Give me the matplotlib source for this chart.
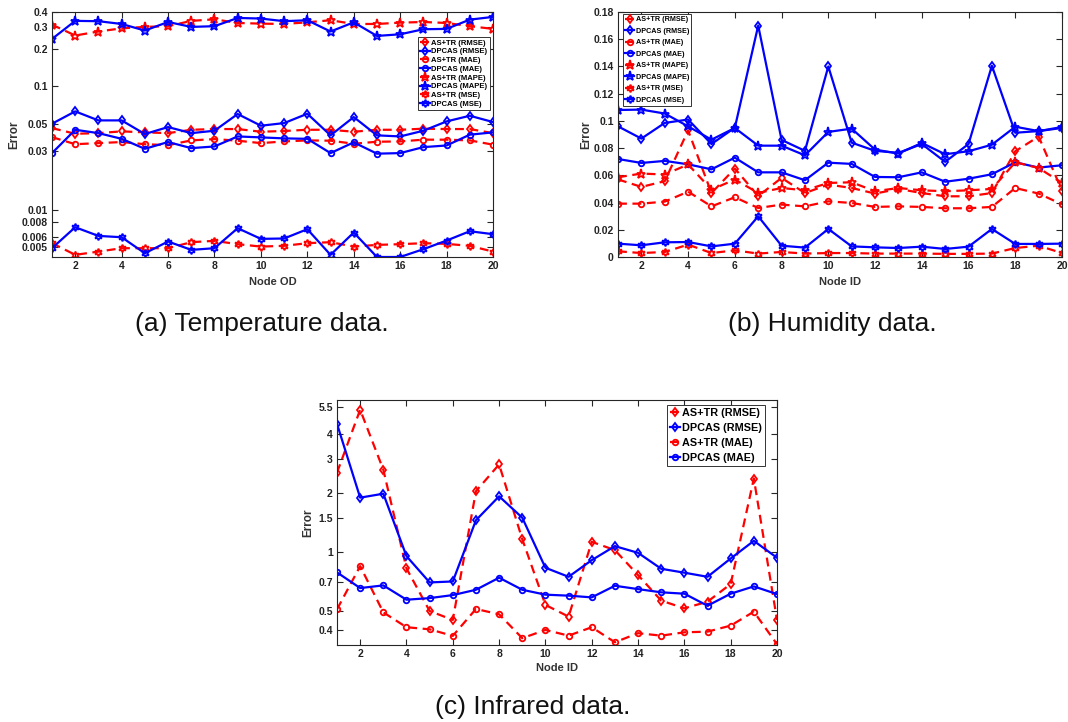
import matplotlib
matplotlib.use("Agg")
import matplotlib.pyplot as plt
from matplotlib.ticker import FixedLocator, FixedFormatter, NullLocator

nodes = list(range(1, 21))
xticks = [2, 4, 6, 8, 10, 12, 14, 16, 18, 20]

# ---- Temperature data ----
a_astr_rmse = [0.0459, 0.0413, 0.0418, 0.0432, 0.0424, 0.0418, 0.0445, 0.0451, 0.0451, 0.0429,
               0.0435, 0.0445, 0.0445, 0.0429, 0.0445, 0.0445, 0.0454, 0.0451, 0.0451, 0.0418]
a_dpcas_rmse = [0.0498, 0.0627, 0.0530, 0.0530, 0.0411, 0.0468, 0.0418, 0.0437, 0.0597, 0.0480,
                0.0504, 0.0600, 0.0401, 0.0564, 0.0401, 0.0393, 0.0437, 0.0520, 0.0578, 0.0514]
a_astr_mae = [0.0388, 0.0340, 0.0347, 0.0354, 0.0340, 0.0334, 0.0365, 0.0374, 0.0363, 0.0347,
              0.0358, 0.0365, 0.0363, 0.0343, 0.0356, 0.0358, 0.0370, 0.0370, 0.0365, 0.0337]
a_dpcas_mae = [0.0288, 0.0445, 0.0418, 0.0376, 0.0312, 0.0354, 0.0316, 0.0326, 0.0393, 0.0386,
               0.0379, 0.0376, 0.0288, 0.0352, 0.0285, 0.0288, 0.0322, 0.0332, 0.0406, 0.0424]
a_astr_mape = [0.316, 0.258, 0.278, 0.295, 0.303, 0.307, 0.339, 0.349, 0.326, 0.322,
               0.320, 0.330, 0.343, 0.320, 0.320, 0.328, 0.332, 0.326, 0.307, 0.292]
a_dpcas_mape = [0.242, 0.339, 0.337, 0.320, 0.283, 0.332, 0.303, 0.307, 0.358, 0.354,
                0.337, 0.343, 0.278, 0.330, 0.256, 0.264, 0.290, 0.292, 0.347, 0.365]
a_astr_mse = [0.00537, 0.00432, 0.00459, 0.00489, 0.00489, 0.00489, 0.00547, 0.00561, 0.00527, 0.00504,
              0.00511, 0.00537, 0.00547, 0.00504, 0.00520, 0.00527, 0.00537, 0.00530, 0.00511, 0.00459]
a_dpcas_mse = [0.00489, 0.00723, 0.00615, 0.00600, 0.00445, 0.00554, 0.00474, 0.00489, 0.00710, 0.00582,
               0.00586, 0.00697, 0.00432, 0.00655, 0.00415, 0.00415, 0.00480, 0.00564, 0.00671, 0.00635]
a_yticks = [0.005, 0.006, 0.008, 0.01, 0.03, 0.05, 0.1, 0.2, 0.3, 0.4]
a_yticklabels = ["0.005", "0.006", "0.008", "0.01", "0.03", "0.05", "0.1", "0.2", "0.3", "0.4"]

# ---- Humidity data ----
b_astr_rmse = [0.0570, 0.0515, 0.0557, 0.0930, 0.0470, 0.0650, 0.0448, 0.0581, 0.0470, 0.0532,
               0.0507, 0.0466, 0.0500, 0.0470, 0.0446, 0.0446, 0.0470, 0.0777, 0.0885, 0.0488]
b_dpcas_rmse = [0.0960, 0.0870, 0.0985, 0.1010, 0.0830, 0.0950, 0.1700, 0.0860, 0.0780, 0.1400,
                0.0840, 0.0780, 0.0765, 0.0830, 0.0699, 0.0830, 0.1405, 0.0913, 0.0925, 0.0948]
b_astr_mae = [0.0392, 0.0392, 0.0407, 0.0480, 0.0372, 0.0439, 0.0360, 0.0385, 0.0372, 0.0409,
              0.0397, 0.0368, 0.0372, 0.0368, 0.0358, 0.0358, 0.0368, 0.0507, 0.0466, 0.0387]
b_dpcas_mae = [0.0720, 0.0691, 0.0706, 0.0681, 0.0644, 0.0730, 0.0622, 0.0622, 0.0564, 0.0693,
               0.0684, 0.0588, 0.0586, 0.0622, 0.0553, 0.0575, 0.0608, 0.0696, 0.0657, 0.0674]
b_astr_mape = [0.0586, 0.0613, 0.0606, 0.0680, 0.0495, 0.0569, 0.0471, 0.0507, 0.0490, 0.0544,
               0.0549, 0.0483, 0.0507, 0.0490, 0.0483, 0.0490, 0.0500, 0.0696, 0.0654, 0.0544]
b_dpcas_mape = [0.1080, 0.1083, 0.1054, 0.0960, 0.0862, 0.0948, 0.0818, 0.0818, 0.0747, 0.0919,
                0.0943, 0.0789, 0.0760, 0.0838, 0.0755, 0.0777, 0.0825, 0.0957, 0.0925, 0.0955]
b_astr_mse = [0.0042, 0.0029, 0.0037, 0.0091, 0.0029, 0.0049, 0.0025, 0.0037, 0.0025, 0.0029,
              0.0029, 0.0025, 0.0025, 0.0025, 0.0023, 0.0023, 0.0025, 0.0066, 0.0083, 0.0029]
b_dpcas_mse = [0.0098, 0.0086, 0.0108, 0.0110, 0.0078, 0.0098, 0.0299, 0.0083, 0.0069, 0.0206,
               0.0078, 0.0071, 0.0066, 0.0076, 0.0059, 0.0076, 0.0206, 0.0096, 0.0096, 0.0098]
b_yticks = [0, 0.02, 0.04, 0.06, 0.08, 0.1, 0.12, 0.14, 0.16, 0.18]
b_yticklabels = ["0", "0.02", "0.04", "0.06", "0.08", "0.1", "0.12", "0.14", "0.16", "0.18"]

# ---- Infrared data ----
c_astr_rmse = [2.55, 5.35, 2.64, 0.826, 0.500, 0.450, 2.05, 2.81, 1.165, 0.537,
               0.468, 1.129, 1.024, 0.763, 0.565, 0.516, 0.558, 0.687, 2.38, 0.450]
c_dpcas_rmse = [4.53, 1.90, 1.99, 0.954, 0.700, 0.708, 1.456, 1.93, 1.50, 0.832,
                0.748, 0.910, 1.073, 0.992, 0.822, 0.785, 0.748, 0.928, 1.142, 0.936]
c_astr_mae = [0.510, 0.848, 0.492, 0.413, 0.403, 0.373, 0.512, 0.481, 0.363, 0.400,
              0.374, 0.413, 0.346, 0.385, 0.374, 0.389, 0.392, 0.421, 0.496, 0.338]
c_dpcas_mae = [0.788, 0.655, 0.676, 0.571, 0.582, 0.603, 0.642, 0.740, 0.642, 0.606,
               0.599, 0.587, 0.673, 0.647, 0.623, 0.613, 0.532, 0.613, 0.668, 0.610]
c_yticks = [0.4, 0.5, 0.7, 1, 1.5, 2, 3, 4, 5.5]
c_yticklabels = ["0.4", "0.5", "0.7", "1", "1.5", "2", "3", "4", "5.5"]

RED = "#ff0000"
BLUE = "#0000ff"
AXC = "#262626"
HEXAGRAM = (6, 1, 0)
LABEL_FONT = ["Liberation Sans", "DejaVu Sans"]

plt.rcParams["font.family"] = LABEL_FONT
plt.rcParams["font.weight"] = "bold"

fig = plt.figure(figsize=(10.68, 7.22), dpi=100)
W, H = 1068.0, 722.0


def make_axes(l, r, t, b):
    return fig.add_axes([l / W, 1 - b / H, (r - l) / W, (b - t) / H])


def style(ax, ticksize):
    for s in ax.spines.values():
        s.set_color(AXC)
        s.set_linewidth(0.8)
    ax.tick_params(which="both", direction="in", top=True, right=True,
                   length=4, width=0.8, color=AXC, labelsize=ticksize,
                   labelcolor="#222222", pad=3)
    ax.set_xlim(1, 20)
    ax.set_xticks(xticks)
    ax.set_xticklabels([str(v) for v in xticks], fontweight="bold")
    for lab in ax.get_yticklabels():
        lab.set_fontweight("bold")


def series(ax, y, color, marker, label, ms=4.5):
    dashed = color == RED
    ax.plot(nodes, y, linestyle="--" if dashed else "-", color=color, lw=1.6,
            marker=marker, markersize=ms, markerfacecolor="none",
            markeredgecolor=color, markeredgewidth=1.3, label=label,
            dashes=(4, 2.5) if dashed else (None, None))


def legend(ax, loc, anchor, size, spacing, hl=1.3):
    lg = ax.legend(loc=loc, bbox_to_anchor=anchor, prop={"weight": "bold", "size": size},
                   frameon=True, fancybox=False, edgecolor="#333333", framealpha=1,
                   handlelength=hl, handletextpad=0.2, borderpad=0.3,
                   labelspacing=spacing, borderaxespad=0)
    lg.get_frame().set_linewidth(0.7)
    return lg


# (a) Temperature
axa = make_axes(52, 493, 12, 257)
axa.set_yscale("log")
series(axa, a_astr_rmse, RED, "d", "AS+TR (RMSE)")
series(axa, a_dpcas_rmse, BLUE, "d", "DPCAS (RMSE)")
series(axa, a_astr_mae, RED, "o", "AS+TR (MAE)", 4)
series(axa, a_dpcas_mae, BLUE, "o", "DPCAS (MAE)", 4)
series(axa, a_astr_mape, RED, "*", "AS+TR (MAPE)", 6.5)
series(axa, a_dpcas_mape, BLUE, "*", "DPCAS (MAPE)", 6.5)
series(axa, a_astr_mse, RED, HEXAGRAM, "AS+TR (MSE)", 5.5)
series(axa, a_dpcas_mse, BLUE, HEXAGRAM, "DPCAS (MSE)", 5.5)
axa.set_ylim(0.00415, 0.4)
axa.yaxis.set_major_locator(FixedLocator(a_yticks))
axa.yaxis.set_major_formatter(FixedFormatter(a_yticklabels))
axa.yaxis.set_minor_locator(NullLocator())
style(axa, 7.5)
axa.set_xlabel("Node OD", fontsize=8, fontweight="bold", color="#333333", labelpad=4)
axa.set_ylabel("Error", fontsize=8.5, fontweight="bold", color="#333333", labelpad=1)
legend(axa, "upper right", (0.993, 0.898), 5.5, 0.18)

# (b) Humidity
axb = make_axes(618, 1062, 12, 257)
series(axb, b_astr_rmse, RED, "d", "AS+TR (RMSE)")
series(axb, b_dpcas_rmse, BLUE, "d", "DPCAS (RMSE)")
series(axb, b_astr_mae, RED, "o", "AS+TR (MAE)", 4)
series(axb, b_dpcas_mae, BLUE, "o", "DPCAS (MAE)", 4)
series(axb, b_astr_mape, RED, "*", "AS+TR (MAPE)", 6.5)
series(axb, b_dpcas_mape, BLUE, "*", "DPCAS (MAPE)", 6.5)
series(axb, b_astr_mse, RED, HEXAGRAM, "AS+TR (MSE)", 5.5)
series(axb, b_dpcas_mse, BLUE, HEXAGRAM, "DPCAS (MSE)", 5.5)
axb.set_ylim(0, 0.18)
axb.set_yticks(b_yticks)
axb.set_yticklabels(b_yticklabels)
style(axb, 7.5)
axb.set_xlabel("Node ID", fontsize=8, fontweight="bold", color="#333333", labelpad=4)
axb.set_ylabel("Error", fontsize=8.5, fontweight="bold", color="#333333", labelpad=1)
legend(axb, "upper left", (0.011, 0.992), 5.2, 0.62)

# (c) Infrared
axc = make_axes(337, 777, 400, 645)
axc.set_yscale("log")
series(axc, c_astr_rmse, RED, "d", "AS+TR (RMSE)")
series(axc, c_dpcas_rmse, BLUE, "d", "DPCAS (RMSE)")
series(axc, c_astr_mae, RED, "o", "AS+TR (MAE)", 4)
series(axc, c_dpcas_mae, BLUE, "o", "DPCAS (MAE)", 4)
axc.set_ylim(0.335, 6.0)
axc.yaxis.set_major_locator(FixedLocator(c_yticks))
axc.yaxis.set_major_formatter(FixedFormatter(c_yticklabels))
axc.yaxis.set_minor_locator(NullLocator())
style(axc, 7.5)
axc.set_xlabel("Node ID", fontsize=8, fontweight="bold", color="#333333", labelpad=3)
axc.set_ylabel("Error", fontsize=8.5, fontweight="bold", color="#333333", labelpad=3)
legend(axc, "upper right", (0.973, 0.98), 7.8, 0.45, hl=0.9)

# captions
cap = dict(ha="center", va="center", fontsize=19, fontweight="normal",
           family=LABEL_FONT, color="#111111")
fig.text(262 / W, 1 - 324 / H, "(a) Temperature data.", **cap)
fig.text(832 / W, 1 - 324 / H, "(b) Humidity data.", **cap)
fig.text(533 / W, 1 - 707 / H, "(c) Infrared data.", **cap)

fig.savefig("out.png", dpi=100)
